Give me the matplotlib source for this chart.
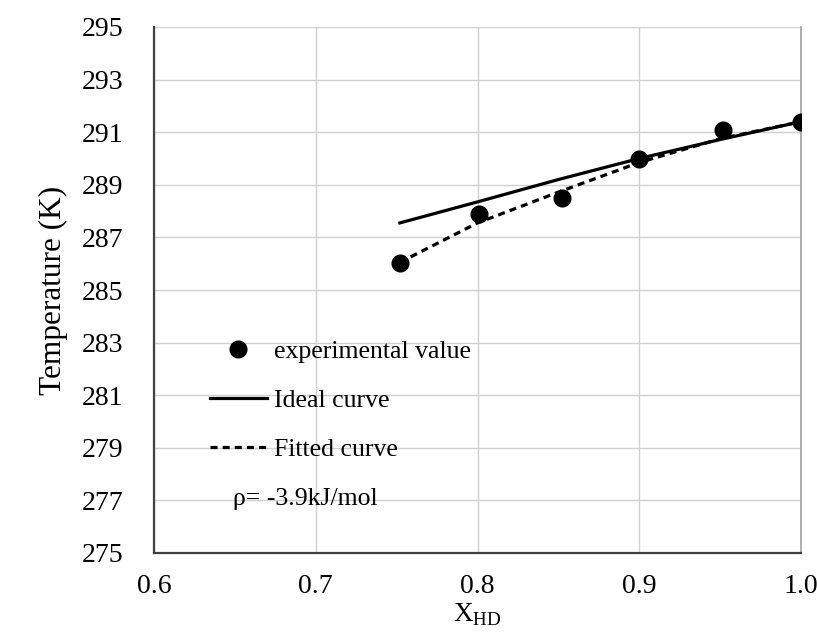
import matplotlib
matplotlib.use("Agg")
import matplotlib.pyplot as plt

plt.rcParams['font.family'] = ['Liberation Serif', 'DejaVu Serif']
plt.rcParams['mathtext.fontset'] = 'custom'
plt.rcParams['mathtext.rm'] = 'Liberation Serif'

# experimental values
exp_x = [0.752, 0.801, 0.852, 0.900, 0.952, 1.000]
exp_y = [286.02, 287.88, 288.50, 289.98, 291.08, 291.40]

# ideal curve
ideal_x = [0.752, 0.80, 0.85, 0.90, 0.95, 1.00]
ideal_y = [287.55, 288.35, 289.20, 290.00, 290.72, 291.40]

# fitted curve
fit_x = [0.752, 0.80, 0.85, 0.90, 0.95, 1.00]
fit_y = [286.05, 287.55, 288.72, 289.85, 290.75, 291.40]

x_ticks = [0.6, 0.7, 0.8, 0.9, 1.0]
y_ticks = [275, 277, 279, 281, 283, 285, 287, 289, 291, 293, 295]

fig = plt.figure(figsize=(8.17, 6.36), dpi=100)
ax = fig.add_axes([154/817, 1-553/636, (801-154)/817, (553-27)/636])

ax.plot(ideal_x, ideal_y, color='black', lw=2.3, label='Ideal curve', zorder=3)
ax.plot(fit_x, fit_y, color='black', lw=2.3, ls=(0, (2.2, 1.6)), label='Fitted curve', zorder=3)
ax.plot(exp_x, exp_y, 'o', color='black', ms=12, label='experimental value', zorder=4)

ax.set_xlim(0.6, 1.0)
ax.set_ylim(275, 295)
ax.set_xticks(x_ticks)
ax.set_xticklabels([f"{v:.1f}" for v in x_ticks])
ax.set_yticks(y_ticks)
ax.grid(True, color='#d0d0d0', lw=1.0)
ax.set_axisbelow(True)
ax.tick_params(length=0, labelsize=20)
ax.tick_params(axis='y', pad=22)
ax.tick_params(axis='x', pad=15)

for s in ['left', 'bottom']:
    ax.spines[s].set_color('#404040')
    ax.spines[s].set_linewidth(1.6)
ax.spines['top'].set_visible(False)
ax.spines['right'].set_color('#a8a8a8')
ax.spines['right'].set_linewidth(1.3)

ax.set_ylabel('Temperature (K)', fontsize=22.5, labelpad=10)
ax.set_xlabel(r'X$_{\mathrm{HD}}$', fontsize=19.5, labelpad=2)

handles, labels = ax.get_legend_handles_labels()
order = [2, 0, 1]
leg = ax.legend([handles[i] for i in order], [labels[i] for i in order],
                loc='upper left', bbox_to_anchor=(0.07, 0.424), frameon=False,
                fontsize=18.5, handlelength=2.25, handletextpad=0.25,
                labelspacing=1.0, borderaxespad=0)

ax.text(0.122, 0.102, 'ρ= -3.9kJ/mol', transform=ax.transAxes, fontsize=18.5,
        va='center', ha='left')

fig.savefig('out.png', dpi=100)
